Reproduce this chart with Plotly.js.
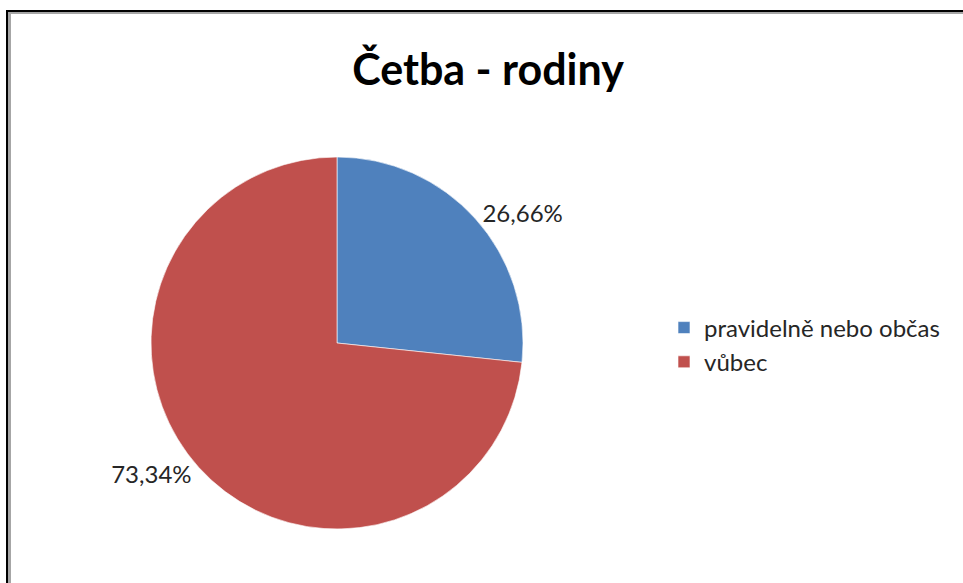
<!DOCTYPE html>
<html>
<head>
<meta charset="utf-8">
<script src="https://cdn.plot.ly/plotly-3.0.1.min.js"></script>
<style>
html,body{margin:0;padding:0;background:#fff;}
#wrap{position:relative;width:963px;height:583px;overflow:hidden;}
#chart{position:absolute;left:0;top:0;width:963px;height:583px;}
#b1{position:absolute;left:6px;top:10px;right:-10px;bottom:-10px;border-top:2px solid #000;border-left:2px solid #000;pointer-events:none;}
#b2{position:absolute;left:0;top:0;right:0;bottom:0;border-top:2px solid #a6a6a6;border-left:3px solid #a6a6a6;}
</style>
</head>
<body>
<div id="wrap">
<div id="chart"></div>
<div id="b1"><div id="b2"></div></div>
</div>
<script>
const chartTitle = "Četba - rodiny";
const categories = ["pravidelně nebo občas", "vůbec"];
const shares = [26.66, 73.34];
const sliceColors = ["#4F81BD", "#C0504D"];

const font = "Lato, 'Open Sans', sans-serif";

Plotly.newPlot("chart", [{
  type: "pie",
  labels: categories,
  values: shares,
  sort: false,
  direction: "clockwise",
  rotation: 0,
  marker: {colors: sliceColors, line: {color: "rgba(255,255,255,0.6)", width: 1}},
  texttemplate: "%{value:.2f}%",
  textposition: "outside",
  textfont: {family: font, size: 24, color: "#262626"},
  hoverinfo: "label+value",
  domain: {x: [151/963, 523/963], y: [1 - 529/583, 1 - 157/583]},
  automargin: false
}], {
  width: 963, height: 583,
  margin: {l: 0, r: 0, t: 0, b: 0},
  paper_bgcolor: "rgba(0,0,0,0)",
  separators: ", ",
  title: {
    text: "<b>" + chartTitle + "</b>",
    font: {family: font, size: 43, color: "#000"},
    x: 488/963, xanchor: "center", xref: "paper",
    y: 1 - 70/583, yanchor: "middle", yref: "container"
  },
  showlegend: true,
  legend: {
    x: 664/963, xanchor: "left",
    y: 1 - 345/583, yanchor: "middle",
    font: {family: font, size: 24, color: "#262626"},
    itemwidth: 30
  }
}, {displayModeBar: false, staticPlot: true});
</script>
</body>
</html>
